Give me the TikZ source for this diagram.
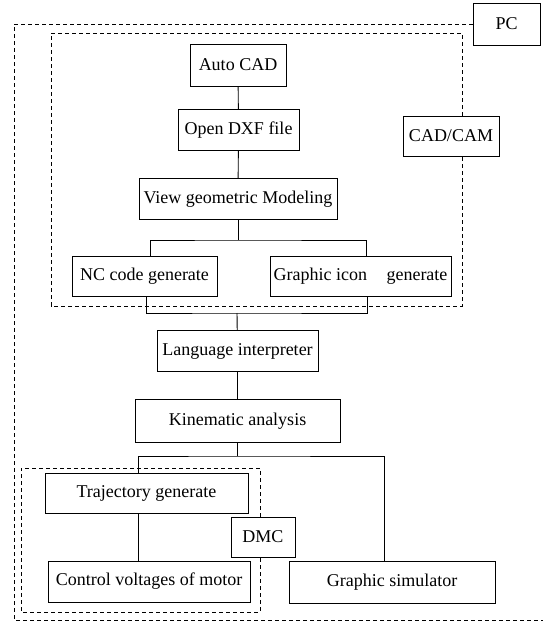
\documentclass[tikz,border=0pt]{standalone}
\usepackage{fontspec}
\setmainfont{Liberation Serif}
\usepackage{tikz}
\usetikzlibrary{calc}

\begin{document}
\begin{tikzpicture}[x=1pt,y=-1pt,line width=0.9pt,
    block/.style={draw,rectangle,inner sep=2pt,font=\fontsize{18}{20}\selectfont},
    frame/.style={draw,dash pattern=on 4pt off 3pt}]
                \useasboundingbox (0,0) rectangle (543,623);
                % blocks
                \node[block,minimum width=96,minimum height=42] (autocad) at (238,65) {Auto CAD};
                \node[block,minimum width=121,minimum height=41] (dxf) at (238.5,130) {Open DXF file};
                \node[block,minimum width=198,minimum height=41] (view) at (238,199) {View geometric Modeling};
                \node[block,minimum width=145,minimum height=40] (nc) at (144.5,276) {NC code generate};
                \node[block,minimum width=181,minimum height=40] (icon) at (360.5,276) {Graphic icon\hspace{15pt} generate};
                \node[block,minimum width=161,minimum height=41] (lang) at (237.5,351) {Language interpreter};
                \node[block,minimum width=205,minimum height=43] (kin) at (237.5,421) {Kinematic analysis};
                \node[block,minimum width=203,minimum height=40] (traj) at (146.5,493) {Trajectory generate};
                \node[block,minimum width=202,minimum height=41] (ctrl) at (149,581.5) {Control voltages of motor};
                \node[block,minimum width=206,minimum height=42] (sim) at (392,582) {Graphic simulator};
                % group labels
                \node[block,minimum width=67,minimum height=42] (pc) at (506.5,24) {PC};
                \node[block,minimum width=96,minimum height=40] (cadcam) at (451,136) {CAD/CAM};
                \node[block,minimum width=64,minimum height=40] (dmc) at (263,537) {DMC};
                % connectors
                \coordinate (vj) at (238,240);
                \coordinate (lj) at (237,313);
                \coordinate (kj) at (237.5,456);
                \draw (autocad) -- (dxf);
                \draw (dxf) -- (view);
                \draw (view) -- (vj);
                \draw ([xshift=5.5pt]nc.north) |- (vj) -| ([xshift=5.5pt]icon.north);
                \draw ([xshift=1.5pt]nc.south) |- (lj) -| ([xshift=6.5pt]icon.south);
                \draw (lj) -- (lang);
                \draw (lang) -- (kin);
                \draw (kin) -- (kj);
                \draw ([xshift=-8.5pt]traj.north) |- (kj) -| ([xshift=-8pt]sim.north);
                \draw ([xshift=-8.5pt]traj.south) -- ([xshift=-11pt]ctrl.north);
                % dashed groups
                \coordinate (pcA) at (14,24);
                \coordinate (pcB) at (14,620);
                \coordinate (pcC) at (543,620);
                \draw[frame] (pc.west) -- (pcA) -- (pcB) -- (pcC);
                \coordinate (ccA) at (462,33);
                \coordinate (ccB) at (51,33);
                \coordinate (ccC) at (51,306);
                \coordinate (ccD) at (462,306);
                \draw[frame] ([xshift=11pt]cadcam.north) -- (ccA) -- (ccB) -- (ccC) -- (ccD) -- ([xshift=11pt]cadcam.south);
                \coordinate (dmA) at (260,468);
                \coordinate (dmB) at (21,468);
                \coordinate (dmC) at (21,612);
                \coordinate (dmD) at (260,612);
                \draw[frame] ([xshift=-3pt]dmc.north) -- (dmA) -- (dmB) -- (dmC) -- (dmD) -- ([xshift=-3pt]dmc.south);
            \end{tikzpicture}
\end{document}
